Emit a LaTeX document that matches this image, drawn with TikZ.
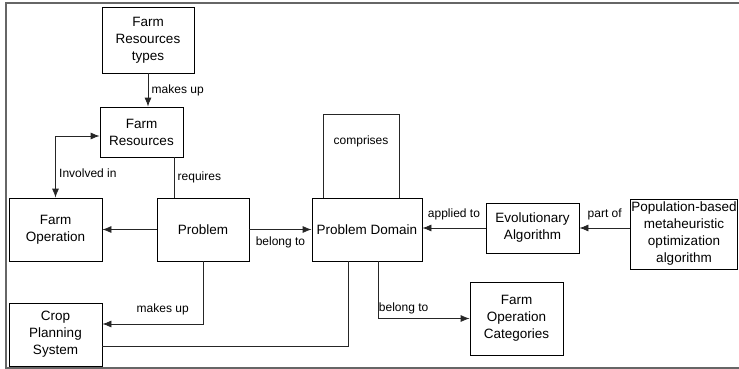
\documentclass[tikz,border=0pt]{standalone}
\usepackage{fontspec}
\setmainfont{Liberation Sans}
\usetikzlibrary{arrows.meta}

\begin{document}
\begin{tikzpicture}[x=1pt,y=-1pt]
\tikzset{box/.style = {shape=rectangle,draw,line width=0.8pt,align=center,inner sep=1pt,font=\fontsize{13.5}{17}\selectfont}}
\tikzset{edge/.style = {->,> = {Latex[length=9pt,width=7pt]},line width=0.8pt,black!85}}
\tikzset{link/.style = {line width=0.8pt,black!85}}
\tikzset{lbl/.style = {text=black,font=\fontsize{12}{14}\selectfont}}
\useasboundingbox (0,0) rectangle (739,369);
%\draw (0,0) rectangle (739,369);
\draw[line width=1.6pt,black!60] (739,3) -- (6,3) -- (6,368) -- (739,368);
\node[box,minimum width=92pt,minimum height=66pt] (frt) at (148,40) {Farm\\Resources\\types};
\node[box,minimum width=83pt,minimum height=50pt] (fr) at (141.5,132) {Farm\\Resources};
\node[box,minimum width=93pt,minimum height=63pt] (fo) at (55.5,229.5) {Farm\\Operation};
\node[box,minimum width=92pt,minimum height=63pt] (prob) at (203,229.5) {Problem};
\node[box,minimum width=110pt,minimum height=63pt] (pd) at (367,229.5) {Problem Domain};
\node[box,minimum width=93pt,minimum height=50pt] (ea) at (532.5,228) {Evolutionary\\Algorithm};
\node[box,minimum width=106pt,minimum height=70pt] (pop) at (684,234) {Population-based\\metaheuristic\\optimization\\algorithm};
\node[box,minimum width=93pt,minimum height=63pt] (cps) at (55.5,334.5) {Crop\\Planning\\System};
\node[box,minimum width=93pt,minimum height=73pt] (foc) at (516.5,318.5) {Farm\\Operation\\Categories};
\coordinate (cmpa) at (323,114);
\coordinate (cmpb) at (399,114);
\draw[edge] (frt.south) -- (frt.south |- fr.north) node[lbl,midway,right] {makes up};
\draw[edge,<->] ([yshift=-4pt]fr.west) -| (fo.north) node[lbl,pos=0.8,right] {Involved in};
\draw[link] ([xshift=-29pt]prob.north) -- ([xshift=32.5pt]fr.south) node[lbl,midway,right] {requires};
\draw[edge] (prob.west) -- (fo.east);
\draw[edge] (prob.east) -- (pd.west) node[lbl,midway,below=4pt] {belong to};
\draw[edge] (prob.south) |- ([yshift=10.5pt]cps.east) node[lbl,pos=0.7,above=5pt] {makes up};
\draw[link] ([xshift=-19pt]pd.south) |- ([yshift=-11.5pt]cps.east);
\draw[edge] ([xshift=11pt]pd.south) |- (foc.west) node[lbl,pos=0.64,above=1pt] {belong to};
\draw[link] ([xshift=-44pt]pd.north) -- (cmpa) -- node[lbl,below=18pt] {comprises} (cmpb) -- ([xshift=32pt]pd.north);
\draw[edge] (ea.west) -- (ea.west -| pd.east) node[lbl,midway,above=4pt] {applied to};
\draw[edge] (ea.east -| pop.west) -- (ea.east) node[lbl,midway,above=4pt] {part of};
\end{tikzpicture}
\end{document}
